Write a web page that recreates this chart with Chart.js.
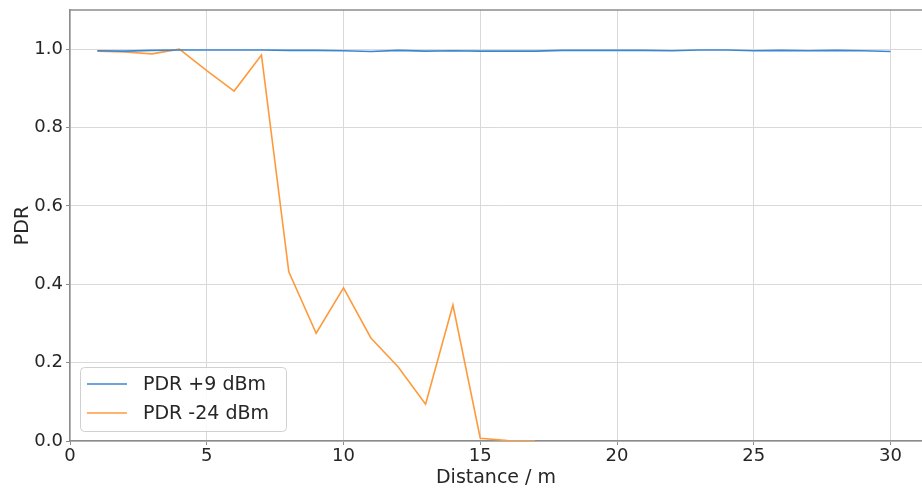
<!DOCTYPE html>
<html>
<head>
<meta charset="utf-8">
<script src="https://cdn.jsdelivr.net/npm/chart.js@4/dist/chart.umd.min.js"></script>
<style>
  html, body { margin: 0; padding: 0; background: #fff; }
  #wrap { width: 922px; height: 491px; position: relative; }
</style>
</head>
<body>
<div id="wrap"><canvas id="pdrChart"></canvas></div>
<script>
// Distancia em metros
const distances = [1, 2, 3, 4, 5, 6, 7, 8, 9, 10, 11, 12, 13, 14, 15,
                   16, 17, 18, 19, 20, 21, 22, 23, 24, 25, 26, 27, 28, 29, 30];
const pdrHigh = [0.996, 0.995, 0.997, 0.998, 0.998, 0.998, 0.998, 0.997, 0.997, 0.996,
                 0.994, 0.997, 0.995, 0.996, 0.995, 0.995, 0.995, 0.997, 0.997, 0.997,
                 0.997, 0.996, 0.998, 0.998, 0.996, 0.997, 0.996, 0.997, 0.996, 0.994];
const pdrLow = [0.995, 0.993, 0.988, 1.0, 0.945, 0.893, 0.985, 0.432, 0.275, 0.391,
                0.263, 0.189, 0.094, 0.347, 0.007, 0.001, 0.0];
const seriesLabels = ['PDR +9 dBm', 'PDR -24 dBm'];
const xTicks = [0, 5, 10, 15, 20, 25, 30];
const yTicks = [0.0, 0.2, 0.4, 0.6, 0.8, 1.0];

const FONT = "'DejaVu Sans', sans-serif";
const TEXT = '#262626';
const SPINE = '#8c8c8c';
const GRID = '#d9d9d9';
const colors = { blue: '#3a87d0', orange: '#ff9a3c' };

function toPoints(xs, ys) {
    return ys.map((y, i) => ({ x: xs[i], y: y }));
}

// top spine + legend drawn inside the plot, like matplotlib
const framePlugin = {
    id: 'frame',
    afterDraw(chart) {
        const { ctx, chartArea } = chart;
        ctx.save();
        ctx.strokeStyle = SPINE;
        ctx.lineWidth = 1.5;
        ctx.beginPath();
        ctx.moveTo(chartArea.left, chartArea.top);
        ctx.lineTo(chartArea.right + 2, chartArea.top);
        ctx.stroke();

        // legend box
        const bx = 80.5, by = 367.5, bw = 206, bh = 64, r = 4;
        ctx.fillStyle = 'rgba(255,255,255,0.85)';
        ctx.strokeStyle = '#d0d0d0';
        ctx.lineWidth = 1;
        ctx.beginPath();
        ctx.roundRect(bx, by, bw, bh, r);
        ctx.fill();
        ctx.stroke();

        const rows = [
            { label: seriesLabels[0], color: colors.blue, y: 384 },
            { label: seriesLabels[1], color: colors.orange, y: 413 }
        ];
        ctx.font = '19px ' + FONT;
        ctx.textBaseline = 'middle';
        ctx.textAlign = 'left';
        rows.forEach(row => {
            ctx.strokeStyle = row.color;
            ctx.lineWidth = 1.6;
            ctx.beginPath();
            ctx.moveTo(87, row.y);
            ctx.lineTo(127, row.y);
            ctx.stroke();
            ctx.fillStyle = TEXT;
            ctx.fillText(row.label, 143, row.y + 1);
        });
        ctx.restore();
    }
};

new Chart(document.getElementById('pdrChart'), {
    type: 'line',
    data: {
        datasets: [{
            label: seriesLabels[0],
            data: toPoints(distances, pdrHigh),
            borderColor: colors.blue,
            borderWidth: 1.6,
            pointRadius: 0,
            tension: 0
        }, {
            label: seriesLabels[1],
            data: toPoints(distances, pdrLow),
            borderColor: colors.orange,
            borderWidth: 1.6,
            pointRadius: 0,
            tension: 0
        }]
    },
    options: {
        responsive: true,
        maintainAspectRatio: false,
        animation: false,
        layout: { padding: { top: 10, right: 0, left: 0, bottom: 0 } },
        plugins: {
            legend: { display: false },
            tooltip: { enabled: false }
        },
        scales: {
            x: {
                type: 'linear',
                min: 0,
                max: 31.15,
                afterFit: scale => { scale.height = 50; },
                afterBuildTicks: scale => { scale.ticks = xTicks.map(v => ({ value: v })); },
                ticks: {
                    font: { family: FONT, size: 18 },
                    color: TEXT,
                    padding: 1,
                    maxRotation: 0
                },
                grid: { color: GRID, lineWidth: 1, tickLength: 4, tickColor: SPINE },
                border: { color: SPINE, width: 1.5 },
                title: {
                    display: true,
                    text: 'Distance / m',
                    font: { family: FONT, size: 19 },
                    color: TEXT,
                    padding: { top: 0, bottom: 2 }
                }
            },
            y: {
                min: 0,
                max: 1.1,
                afterFit: scale => {
                    scale.width = 70;
                    scale.paddingTop = 0;
                    scale.paddingBottom = 0;
                },
                afterBuildTicks: scale => { scale.ticks = yTicks.map(v => ({ value: v })); },
                ticks: {
                    font: { family: FONT, size: 18 },
                    color: TEXT,
                    padding: 3,
                    callback: v => v.toFixed(1)
                },
                grid: { color: GRID, lineWidth: 1, tickLength: 4, tickColor: SPINE },
                border: { color: SPINE, width: 1.5 },
                title: {
                    display: true,
                    text: 'PDR',
                    font: { family: FONT, size: 19 },
                    color: TEXT,
                    padding: { top: 12, bottom: 0 }
                }
            }
        }
    },
    plugins: [framePlugin]
});
</script>
</body>
</html>
